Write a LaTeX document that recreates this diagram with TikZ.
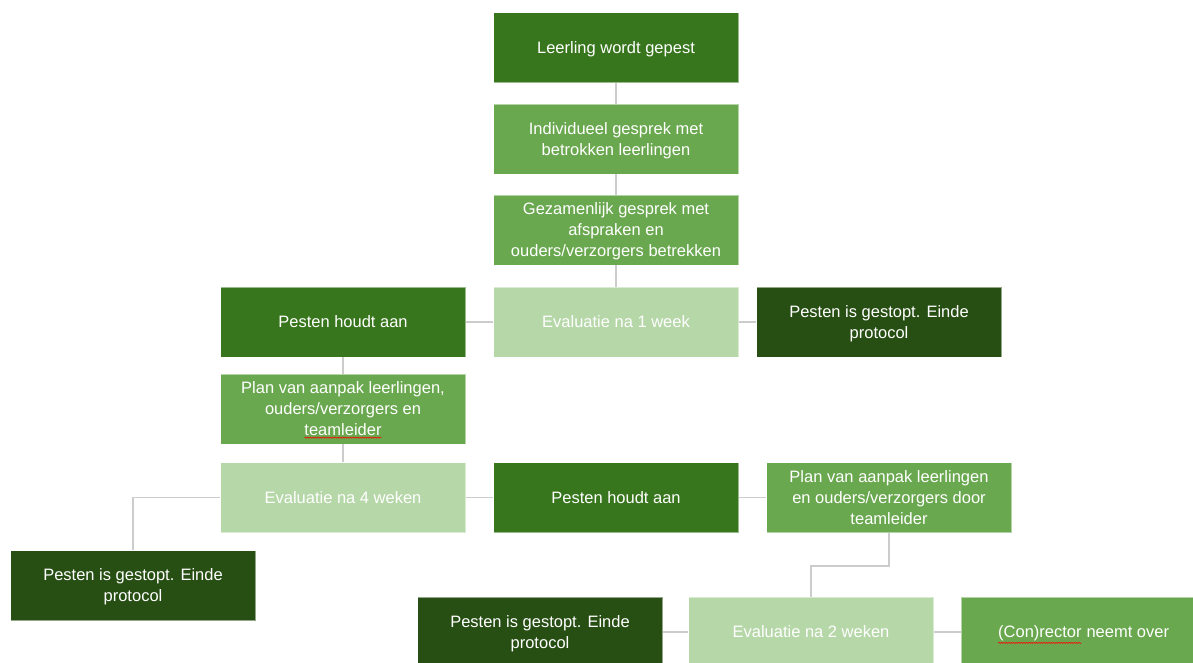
\documentclass[tikz,border=0pt]{standalone}
\usepackage{fontspec}
\setmainfont{Liberation Sans}
\usetikzlibrary{positioning, decorations.pathmorphing}

\definecolor{darkgreen}{HTML}{38761D}
\definecolor{deepgreen}{HTML}{274E13}
\definecolor{midgreen}{HTML}{6AA84F}
\definecolor{palegreen}{HTML}{B6D7A8}
\definecolor{linegray}{HTML}{CCCCCC}

\newcommand{\spellwave}[1]{\tikz[baseline=(w.base)]{\node [inner sep=0pt, outer sep=0pt, minimum width=0pt,
		minimum height=0pt, draw=none, fill=none, text=white] (w) {#1};
	\draw [red, draw opacity=1, line width=0.5pt, decorate, decoration={snake, amplitude=0.7pt, segment length=2.5pt}]
		([yshift=-1.5pt]w.south west) -- ([yshift=-1.5pt]w.south east);}}

\begin{document}
\begin{tikzpicture}[x=1pt, y=-1pt,
	box/.style={minimum width=245pt, minimum height=70pt, inner sep=2pt, align=center,
		text=white, draw=white, draw opacity=0.5, line width=0.6pt, text depth=0pt,
		font=\fontsize{16.5}{21}\selectfont},
	dark/.style={box, fill=darkgreen},
	deep/.style={box, fill=deepgreen},
	mid/.style={box, fill=midgreen},
	pale/.style={box, fill=palegreen},
	link/.style={draw=linegray, line width=1.5pt}]

	\useasboundingbox (0, 0) rectangle (1193, 662);
	\clip (0, 0) rectangle (1193, 662);

	\coordinate (knik) at (811, 566);

	% middelste kolom
	\node [dark] (gepest) at (616, 47.5) {Leerling wordt gepest};
	\node [mid] (individueel) at (616, 139) {Individueel gesprek met\\betrokken leerlingen};
	\node [mid] (gezamenlijk) at (616, 230) {Gezamenlijk gesprek met\\afspraken en\\ouders/verzorgers betrekken};
	\node [pale] (evalweek) at (616, 322) {Evaluatie na 1 week};
	\node [dark] (houdtaan) at (343, 322) {Pesten houdt aan};
	\node [deep] (gestopt) at (879, 322) {Pesten is gestopt. Einde\\protocol};

	% na een week
	\node [mid] (plan) at (343, 409) {Plan van aanpak leerlingen,\\ouders/verzorgers en\\\spellwave{teamleider}};
	\node [pale] (evalvier) at (343, 497.5) {Evaluatie na 4 weken};
	\node [dark] (houdtaantwee) at (616, 497.5) {Pesten houdt aan};
	\node [mid] (plantwee) at (889, 497.5) {Plan van aanpak leerlingen\\en ouders/verzorgers door\\teamleider};
	\node [deep] (gestopttwee) at (133, 585.5) {Pesten is gestopt. Einde\\protocol};

	% na vier weken
	\node [pale] (evaltwee) at (811, 632) {Evaluatie na 2 weken};
	\node [deep] (gestoptdrie) at (540, 632) {Pesten is gestopt. Einde\\protocol};
	\node [mid] (rector) at (1083.5, 632) {\spellwave{(Con)rector} neemt over};

	\draw [link] (gepest) -- (individueel);
	\draw [link] (individueel) -- (gezamenlijk);
	\draw [link] (gezamenlijk) -- (evalweek);
	\draw [link] (evalweek) -- (houdtaan);
	\draw [link] (evalweek) -- (gestopt);
	\draw [link] (houdtaan) -- (plan);
	\draw [link] (plan) -- (evalvier);
	\draw [link] (evalvier) -- (houdtaantwee);
	\draw [link] (houdtaantwee) -- (plantwee);
	\draw [link] (evalvier.west) -| (gestopttwee.north);
	\draw [link] (plantwee.south) |- (knik) -- (evaltwee.north);
	\draw [link] (evaltwee) -- (gestoptdrie);
	\draw [link] (evaltwee) -- (rector);
\end{tikzpicture}
\end{document}
